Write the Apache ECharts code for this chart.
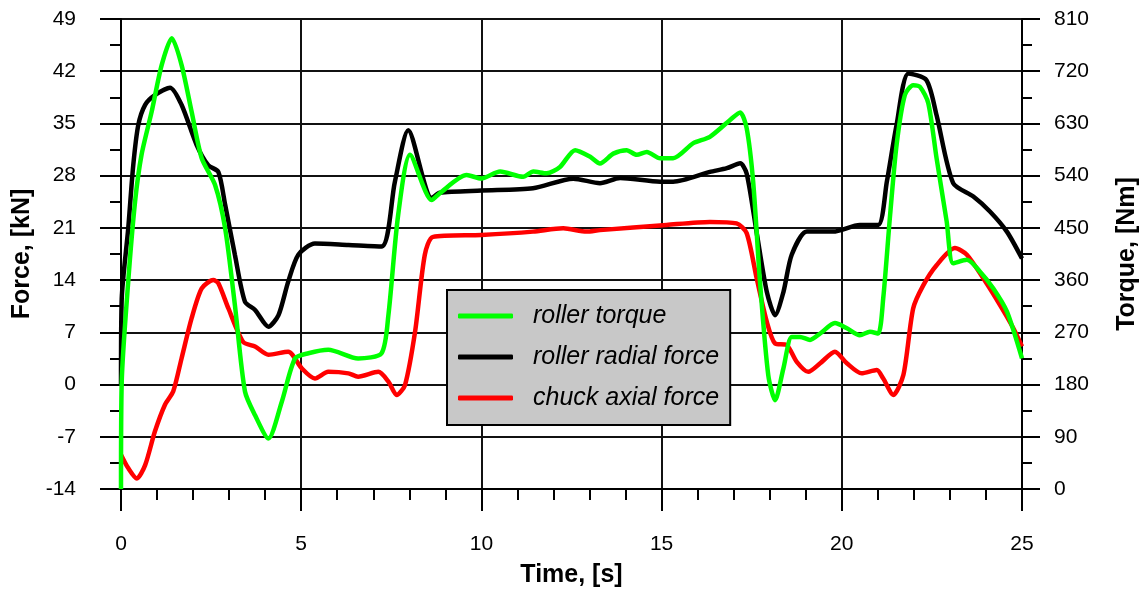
<!DOCTYPE html>
<html>
<head>
<meta charset="utf-8">
<script src="https://cdn.jsdelivr.net/npm/echarts@6/dist/echarts.min.js"></script>
<style>
html,body{margin:0;padding:0;background:#fff;}
#c{width:1143px;height:593px;}
</style>
</head>
<body>
<div id="c"></div>
<script>
// ---- data ----
const seriesNames = ['roller torque', 'roller radial force', 'chuck axial force'];

const tTorque = [0, 0.02, 0.2, 0.39, 0.57, 0.85, 1.13, 1.41, 1.68, 1.96, 2.24, 2.61, 2.89, 3.16, 3.44, 3.72, 4.09, 4.46, 4.83, 5.2, 5.75, 6.58, 7.23, 7.42, 7.69, 8.02, 8.62, 8.85, 9.59, 10.0, 10.52, 11.16, 11.44, 11.81, 12.18, 12.6, 13.01, 13.29, 13.66, 14.03, 14.31, 14.59, 14.96, 15.32, 15.88, 16.34, 16.9, 17.18, 17.36, 17.54, 17.73, 17.96, 18.15, 18.38, 18.61, 18.84, 19.12, 19.4, 19.81, 20.14, 20.5, 20.78, 21.01, 21.15, 21.34, 21.52, 21.75, 21.98, 22.17, 22.4, 22.63, 22.91, 23.09, 23.47, 23.83, 24.2, 24.58, 25.0];
const torque = [0, 185, 357, 495, 576, 650, 731, 777, 731, 650, 570, 524, 449, 317, 168, 127, 87, 150, 225, 234, 240, 225, 234, 300, 472, 576, 498, 510, 541, 535, 547, 538, 547, 544, 555, 584, 573, 561, 578, 584, 576, 581, 570, 570, 596, 607, 636, 649, 622, 530, 357, 196, 153, 208, 262, 262, 257, 268, 286, 277, 265, 271, 268, 329, 472, 593, 679, 696, 693, 665, 570, 461, 389, 395, 375, 346, 306, 225];

const tRadial = [0, 0.02, 0.2, 0.34, 0.48, 0.67, 0.94, 1.36, 1.68, 2.1, 2.42, 2.7, 2.89, 3.16, 3.44, 3.72, 4.09, 4.37, 4.64, 4.92, 5.38, 6.31, 7.23, 7.6, 7.97, 8.62, 8.85, 10.0, 11.43, 12.55, 13.29, 13.85, 14.96, 15.32, 16.34, 16.81, 17.18, 17.36, 17.64, 17.92, 18.15, 18.38, 18.61, 19.03, 19.76, 20.5, 21.01, 21.25, 21.52, 21.85, 22.35, 22.63, 23.09, 23.65, 24.11, 24.58, 25.0];
const radial = [0, 11.5, 20.9, 29.4, 34.8, 37.5, 38.8, 39.8, 37.5, 32.1, 29.4, 28.5, 24.1, 17.4, 11.1, 10.0, 7.75, 9.3, 13.8, 17.4, 18.9, 18.7, 18.5, 27.2, 34.1, 25.0, 25.7, 26.0, 26.3, 27.6, 27.0, 27.7, 27.2, 27.2, 28.5, 29.0, 29.65, 28.3, 20.3, 12.4, 9.3, 12.4, 17.4, 20.5, 20.5, 21.4, 21.4, 27.2, 34.8, 41.7, 40.8, 36.1, 27.0, 25.2, 23.2, 20.5, 16.9];

const tAxial = [0, 0.2, 0.44, 0.67, 0.94, 1.22, 1.45, 1.68, 1.96, 2.24, 2.56, 2.7, 2.98, 3.39, 3.72, 4.09, 4.64, 5.01, 5.38, 5.75, 6.31, 6.58, 7.14, 7.42, 7.65, 7.88, 8.16, 8.43, 8.66, 10.0, 11.43, 12.27, 12.92, 13.29, 15.14, 16.34, 17.08, 17.36, 17.64, 17.92, 18.15, 18.47, 18.75, 19.07, 19.4, 19.81, 20.14, 20.55, 20.97, 21.15, 21.43, 21.71, 21.98, 22.26, 22.63, 23.14, 23.47, 23.93, 24.39, 24.76, 25.0];
const axial = [-9.4, -11.2, -12.6, -10.8, -6.3, -2.7, -0.9, 3.5, 8.9, 12.9, 14.0, 13.6, 10.2, 5.7, 5.1, 4.0, 4.4, 2.2, 0.8, 1.7, 1.5, 1.05, 1.7, 0.4, -1.4, -0.06, 7.1, 17.4, 19.8, 20.05, 20.5, 20.95, 20.5, 20.7, 21.4, 21.8, 21.6, 20.3, 14.2, 8.4, 5.5, 5.3, 3.05, 1.7, 2.85, 4.4, 2.85, 1.5, 1.95, 0.8, -1.4, 1.3, 10.2, 13.3, 16.0, 18.3, 17.4, 14.2, 10.65, 7.55, 5.1];

const xAxisName = 'Time, [s]';
const yLeftName = 'Force, [kN]';
const yRightName = 'Torque, [Nm]';

// ---- chart ----
const pairs = (t, v) => t.map((x, i) => [x, v[i]]);
const FONT = "'Liberation Sans', Arial, sans-serif";
const chart = echarts.init(document.getElementById('c'), null, {renderer: 'canvas'});

const axisLine = {show: true, onZero: false, lineStyle: {color: '#000', width: 2}};
const split = {show: true, lineStyle: {color: '#111', width: 2}};
const lbl = {color: '#000', fontSize: 21, fontFamily: FONT};
const nameStyle = {color: '#000', fontSize: 25, fontWeight: 'bold', fontFamily: FONT};

chart.setOption({
  animation: false,
  backgroundColor: '#fff',
  grid: {left: 121, right: 121, top: 19, bottom: 104, containLabel: false, outerBoundsMode: 'none'},
  legend: {
    data: seriesNames,
    orient: 'vertical',
    left: 447, top: 290,
    backgroundColor: '#c8c8c8',
    borderColor: '#000', borderWidth: 2,
    padding: [13, 11, 14, 11],
    itemGap: 15,
    itemWidth: 55, itemHeight: 5,
    icon: 'roundRect',
    textStyle: {color: '#000', fontSize: 25, fontStyle: 'italic', fontFamily: FONT, lineHeight: 26, padding: [0, 0, 0, 15]}
  },
  xAxis: {
    type: 'value', min: 0, max: 25, interval: 5,
    axisLine: axisLine,
    axisTick: {show: true, length: 22, lineStyle: {color: '#000', width: 2}},
    minorTick: {show: true, splitNumber: 5, length: 11, lineStyle: {color: '#000', width: 2}},
    splitLine: split,
    axisLabel: Object.assign({margin: 45}, lbl),
    name: xAxisName, nameLocation: 'middle', nameGap: 74, nameTextStyle: nameStyle
  },
  yAxis: [{
    type: 'value', min: -14, max: 49, interval: 7, position: 'left',
    axisLine: axisLine,
    axisTick: {show: true, length: 21, lineStyle: {color: '#000', width: 2}},
    minorTick: {show: true, splitNumber: 2, length: 11, lineStyle: {color: '#000', width: 2}},
    splitLine: split,
    axisLabel: Object.assign({margin: 45}, lbl),
    name: yLeftName, nameLocation: 'middle', nameGap: 86, nameRotate: 90, nameTextStyle: nameStyle
  }, {
    type: 'value', min: 0, max: 810, interval: 90, position: 'right',
    axisLine: axisLine,
    axisTick: {show: true, length: 18, lineStyle: {color: '#000', width: 2}},
    minorTick: {show: true, splitNumber: 2, length: 10, lineStyle: {color: '#000', width: 2}},
    splitLine: {show: false},
    axisLabel: Object.assign({margin: 32}, lbl),
    name: yRightName, nameLocation: 'middle', nameGap: 93, nameRotate: 90, nameTextStyle: nameStyle
  }],
  series: [{
    name: seriesNames[2], type: 'line', yAxisIndex: 0,
    data: pairs(tAxial, axial), showSymbol: false, smooth: 0.25,
    lineStyle: {color: '#ff0000', width: 4.5}, itemStyle: {color: '#ff0000'}, z: 3
  }, {
    name: seriesNames[1], type: 'line', yAxisIndex: 0,
    data: pairs(tRadial, radial), showSymbol: false, smooth: 0.25,
    lineStyle: {color: '#000000', width: 4.5}, itemStyle: {color: '#000000'}, z: 4
  }, {
    name: seriesNames[0], type: 'line', yAxisIndex: 1,
    data: pairs(tTorque, torque), showSymbol: false, smooth: 0.25,
    lineStyle: {color: '#00ff00', width: 4.5}, itemStyle: {color: '#00ff00'}, z: 5
  }]
});
</script>
</body>
</html>
